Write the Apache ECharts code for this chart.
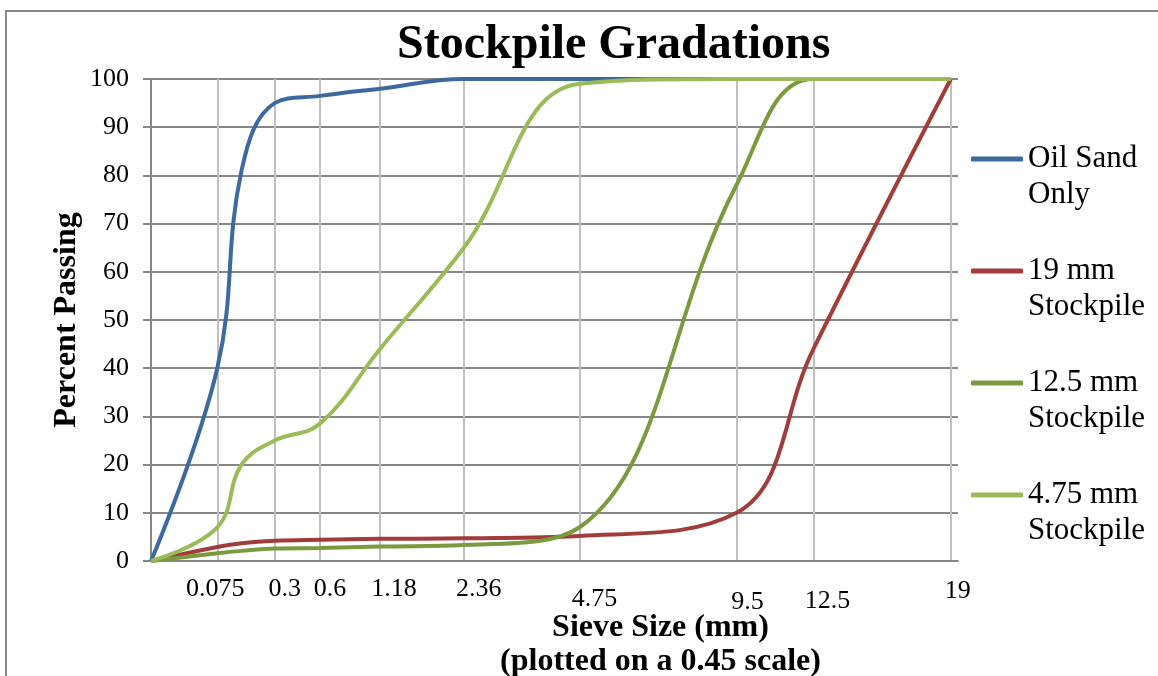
<!DOCTYPE html>
<html><head><meta charset="utf-8">
<script src="https://cdn.jsdelivr.net/npm/echarts@6/dist/echarts.min.js"></script>
<style>html,body{margin:0;padding:0;background:#fff}#c{width:1158px;height:676px}</style>
</head><body><div id="c"></div>
<script>
// ---- data ----
const sieveSizes = [0, 0.075, 0.15, 0.3, 0.6, 1.18, 2.36, 4.75, 9.5, 12.5, 19];
const tickSieves = [0.075, 0.3, 0.6, 1.18, 2.36, 4.75, 9.5, 12.5, 19];
const tickLabels = ['0.075', '0.3', '0.6', '1.18', '2.36', '4.75', '9.5', '12.5', '19'];
const seriesNames = ['Oil Sand Only', '19 mm Stockpile', '12.5 mm Stockpile', '4.75 mm Stockpile'];
const legendLabels = ['Oil Sand\nOnly', '19 mm\nStockpile', '12.5 mm\nStockpile', '4.75 mm\nStockpile'];
const oilSand    = [0, 40, 81, 95, 96.5, 98, 100, 100, 100, 100, 100];
const stock19    = [0, 2.9, 3.7, 4.2, 4.4, 4.6, 4.7, 5.2, 10, 44, 100];
const stock12_5  = [0, 1.6, 2.1, 2.6, 2.7, 3.0, 3.3, 7, 78, 100, 100];
const stock4_75  = [0, 7, 20, 25, 28.5, 44, 65, 99, 100, 100, 100];
const yMin = 0, yMax = 100, yInterval = 10;
const SCALE_EXP = 0.45;

// ---- styles ----
const colors = ['#3c6a9f', '#a03d3a', '#7b9a40', '#9bbb59'];
const FONT = 'Liberation Serif';
// per-label nudges [dx, dy] (styling only)
const labelNudge = {'0.075':[-2,0],'0.3':[10,0],'0.6':[10,0],'1.18':[14,0],'2.36':[15,0],'4.75':[15,10],'9.5':[11,13],'12.5':[14,12],'19':[7,2]};

const tr = s => Math.pow(s, SCALE_EXP);
const rich = {};
tickLabels.forEach((t, i) => {
  const [dx, dy] = labelNudge[t];
  rich['t' + i] = {
    fontFamily: FONT, fontSize: 26, color: '#000',
    padding: [dy, dx < 0 ? -2 * dx : 0, 0, dx > 0 ? 2 * dx : 0]
  };
});

const allSeries = [oilSand, stock19, stock12_5, stock4_75];

const chart = echarts.init(document.getElementById('c'), null, {renderer: 'canvas'});
chart.setOption({
  animation: false,
  backgroundColor: '#fff',
  color: colors,
  graphic: [{
    type: 'rect', z: -10, silent: true,
    shape: {x: 6, y: 11, width: 1300, height: 800},
    style: {fill: 'none', stroke: '#878787', lineWidth: 2}
  }],
  title: {
    text: 'Stockpile Gradations',
    left: 392, top: 17,
    textStyle: {fontFamily: FONT, fontSize: 48, fontWeight: 'bold', color: '#000'}
  },
  legend: {
    orient: 'vertical', left: 971, top: 105, padding: 0,
    itemWidth: 52, itemHeight: 5, itemGap: 4, icon: 'roundRect',
    data: seriesNames,
    formatter: name => '\n' + legendLabels[seriesNames.indexOf(name)],
    textStyle: {fontFamily: FONT, fontSize: 31, lineHeight: 36, color: '#000'}
  },
  grid: {left: 151, top: 79, right: 200, bottom: 115, containLabel: false, outerBoundsMode: 'none'},
  xAxis: {
    type: 'value', min: 0, max: 3.796,
    name: 'Sieve Size (mm)\n(plotted on a 0.45 scale)',
    nameLocation: 'middle', nameGap: 50, nameMoveOverlap: false,
    nameTextStyle: {fontFamily: FONT, fontSize: 32, fontWeight: 'bold', color: '#000', lineHeight: 34, padding: [0, 0, 0, 212]},
    axisLine: {show: true, lineStyle: {color: '#878787', width: 2}},
    axisTick: {show: false, customValues: tickSieves.map(tr)},
    axisLabel: {
      customValues: tickSieves.map(tr), margin: 15,
      formatter: v => {
        let idx = 0, best = Infinity;
        tickSieves.forEach((s, i) => { const d = Math.abs(tr(s) - v); if (d < best) { best = d; idx = i; } });
        return '{t' + idx + '|' + tickLabels[idx] + '}';
      },
      rich: rich
    },
    splitLine: {show: true, lineStyle: {color: '#c0c0c0', width: 2}}
  },
  yAxis: {
    type: 'value', min: yMin, max: yMax, interval: yInterval,
    name: 'Percent Passing', nameLocation: 'middle', nameGap: 68, nameRotate: 90, nameMoveOverlap: false,
    nameTextStyle: {fontFamily: FONT, fontSize: 32, fontWeight: 'bold', color: '#000'},
    axisLine: {show: true, lineStyle: {color: '#878787', width: 2}},
    axisTick: {show: true, inside: false, length: 8, lineStyle: {color: '#878787', width: 2}},
    axisLabel: {fontFamily: FONT, fontSize: 26, color: '#000', margin: 22},
    splitLine: {show: true, lineStyle: {color: '#878787', width: 2}}
  },
  series: allSeries.map((vals, k) => ({
    name: seriesNames[k],
    type: 'line',
    smooth: 0.4,
    symbol: 'none',
    lineStyle: {width: 4, color: colors[k]},
    itemStyle: {color: colors[k]},
    data: sieveSizes.map((s, i) => [tr(s), vals[i]])
  }))
});
</script></body></html>
